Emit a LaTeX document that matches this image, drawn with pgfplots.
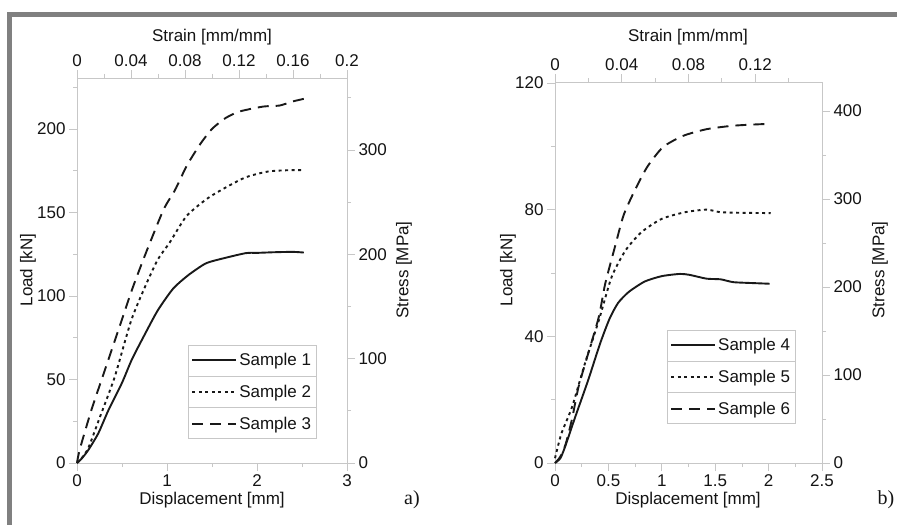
\documentclass[border=0pt]{standalone}
\usepackage{pgfplots}
\pgfplotsset{compat=1.18}
\usepackage{fontspec}
\setmainfont{Liberation Sans}
\newfontfamily\seriffont{Liberation Serif}
\usetikzlibrary{calc}
\newcommand\fs{\fontsize{17}{20}\selectfont}
\definecolor{axgray}{gray}{0.78}
\definecolor{txt}{gray}{0.08}
\definecolor{frame}{gray}{0.5}

\pgfplotsset{
  base/.style={scale only axis, tick align=outside,
    axis line style={axgray, line width=0.8pt, -},
    major tick style={axgray, line width=0.8pt},
    minor tick style={axgray, line width=0.8pt},
    major tick length=8pt, minor tick length=4pt,
    ticklabel style={font=\fs, text=txt},
    clip=false},
  s1/.style={black!90, line width=1.9pt, smooth, tension=0.4},
  s2/.style={black!90, line width=1.9pt, dash pattern=on 3pt off 3.5pt, smooth, tension=0.4},
  s3/.style={black!90, line width=1.9pt, dash pattern=on 11pt off 7pt, smooth, tension=0.4},
}

\pgfplotstableread{
d L
0 0
0.05 2.5
0.126 7.8
0.237 17.8
0.35 31.7
0.50 48
0.61 62
0.76 77.7
0.90 91.6
1.07 104.5
1.24 112.6
1.42 119.2
1.55 121.5
1.87 125.6
2.0 125.8
2.2 126.2
2.4 126.4
2.52 126
}\sA
\pgfplotstableread{
d L
0 0
0.05 2.8
0.126 9
0.256 27.7
0.42 51.7
0.6 85
0.76 106
0.9 122
1.03 132
1.22 148
1.48 159.5
1.85 170.5
2.11 174.4
2.3 175.2
2.51 175.4
}\sB
\pgfplotstableread{
d L
0 0
0.03 8
0.16 31.7
0.31 55.7
0.46 79.6
0.61 103.6
0.76 125
0.96 151.5
1.09 163.5
1.22 178
1.37 191
1.50 200
1.65 206.5
1.81 210.5
2.07 213.4
2.25 214
2.40 216.5
2.52 218
}\sC
\pgfplotstableread{
d L
0 0
0.05 1.5
0.094 5.1
0.19 14.6
0.31 26.1
0.42 37.5
0.51 45.5
0.59 50.5
0.69 54
0.84 57.3
1.0 59.0
1.17 59.7
1.26 59.4
1.42 58.2
1.55 58.0
1.67 57.1
1.86 56.8
2.01 56.6
}\sD
\pgfplotstableread{
d L
0 1.5
0.06 9.3
0.16 17.7
0.28 31.4
0.41 45
0.53 58.7
0.66 67.1
0.81 72.9
1.0 77.1
1.22 79.2
1.42 80
1.545 79.2
1.75 79.0
2.02 78.9
}\sE
\pgfplotstableread{
d L
0 0
0.05 2
0.1 6
0.16 14
0.22 24
0.31 34.5
0.41 46.1
0.47 56.6
0.56 68.1
0.64 78
0.73 84.9
0.86 93.3
1.01 99.7
1.2 103.3
1.42 105.4
1.67 106.5
1.95 107.0
2.0 106.8
}\sF

\begin{document}
\begin{tikzpicture}[x=1pt,y=1pt]
\useasboundingbox (0,0) rectangle (897,525);
\fill[white] (0,0) rectangle (897,525);
% frame
\fill[frame] (7,0) rectangle (12,513);
\fill[frame] (7,508) rectangle (897,513);

% ---------- panel a ----------
\begin{axis}[base, at={(77pt,62pt)}, anchor=south west,
  width=270pt, height=385pt,
  xmin=0, xmax=3, ymin=0, ymax=230.5,
  xtick pos=left, ytick pos=left,
  xtick={0,1,2,3}, xticklabels={0,1,2,3},
  minor xtick={0.5,1.5,2.5},
  ytick={0,50,100,150,200}, yticklabels={0,50,100,150,200},
  minor ytick={25,75,125,175,225},
  legend style={at={(0.411,0.3065)}, anchor=north west, draw=axgray, line width=0.8pt,
    font=\fs, text=txt, inner xsep=3pt, inner ysep=6pt, row sep=14pt, name=legA},
  legend cell align=left,
  legend image code/.code={\draw[#1] (0pt,0pt) -- (44pt,0pt);},
]
\addplot[s1] table[x=d,y=L] {\sA}; \addlegendentry{Sample 1}
\addplot[s2] table[x=d,y=L] {\sB}; \addlegendentry{Sample 2}
\addplot[s3] table[x=d,y=L] {\sC}; \addlegendentry{Sample 3}
\end{axis}
\begin{axis}[base, at={(77pt,62pt)}, anchor=south west,
  width=270pt, height=385pt,
  axis x line*=top, axis y line*=right,
  xmin=0, xmax=0.2, ymin=0, ymax=369,
  xtick={0,0.04,0.08,0.12,0.16,0.2}, xticklabels={0,0.04,0.08,0.12,0.16,0.2},
  minor xtick={0.02,0.06,0.10,0.14,0.18},
  ytick={0,100,200,300}, yticklabels={0,100,200,300},
  minor ytick={50,150,250,350},
]
\end{axis}

% ---------- panel b ----------
\begin{axis}[base, at={(555pt,62pt)}, anchor=south west,
  width=267pt, height=381pt,
  xmin=0, xmax=2.5, ymin=0, ymax=120.3,
  xtick pos=left, ytick pos=left,
  xtick={0,0.5,1,1.5,2,2.5}, xticklabels={0,0.5,1,1.5,2,2.5},
  minor xtick={0.25,0.75,1.25,1.75,2.25},
  ytick={0,40,80,120}, yticklabels={0,40,80,120},
  minor ytick={20,60,100},
  legend style={at={(0.419,0.349)}, anchor=north west, draw=axgray, line width=0.8pt,
    font=\fs, text=txt, inner xsep=3pt, inner ysep=6pt, row sep=14pt, name=legB},
  legend cell align=left,
  legend image code/.code={\draw[#1] (0pt,0pt) -- (44pt,0pt);},
]
\addplot[s1] table[x=d,y=L] {\sD}; \addlegendentry{Sample 4}
\addplot[s2] table[x=d,y=L] {\sE}; \addlegendentry{Sample 5}
\addplot[s3] table[x=d,y=L] {\sF}; \addlegendentry{Sample 6}
\end{axis}
\begin{axis}[base, at={(555pt,62pt)}, anchor=south west,
  width=267pt, height=381pt,
  axis x line*=top, axis y line*=right,
  xmin=0, xmax=0.16, ymin=0, ymax=433,
  xtick={0,0.04,0.08,0.12}, xticklabels={0,0.04,0.08,0.12},
  minor xtick={0.02,0.06,0.10,0.14},
  ytick={0,100,200,300,400}, yticklabels={0,100,200,300,400},
  minor ytick={50,150,250,350},
]
\end{axis}

% legend separators
\foreach \L in {legA,legB}{
  \draw[axgray, line width=0.8pt] ($(\L.north west)!1/3!(\L.south west)$) -- ($(\L.north east)!1/3!(\L.south east)$);
  \draw[axgray, line width=0.8pt] ($(\L.north west)!2/3!(\L.south west)$) -- ($(\L.north east)!2/3!(\L.south east)$);
}

% labels
\node[font=\fs, text=txt] at (212,488) {Strain [mm/mm]};
\node[font=\fs, text=txt] at (688,488) {Strain [mm/mm]};
\node[font=\fs, text=txt] at (212,25) {Displacement [mm]};
\node[font=\fs, text=txt] at (688,25) {Displacement [mm]};
\node[font=\fs, text=txt, rotate=90] at (28,255) {Load [kN]};
\node[font=\fs, text=txt, rotate=90] at (508,255) {Load [kN]};
\node[font=\fs, text=txt, rotate=90] at (404,255) {Stress [MPa]};
\node[font=\fs, text=txt, rotate=90] at (880,255) {Stress [MPa]};
\node[font=\seriffont\fontsize{20}{24}\selectfont, text=txt] at (412,25) {a)};
\node[font=\seriffont\fontsize{20}{24}\selectfont, text=txt] at (886,25) {b)};
\end{tikzpicture}
\end{document}
